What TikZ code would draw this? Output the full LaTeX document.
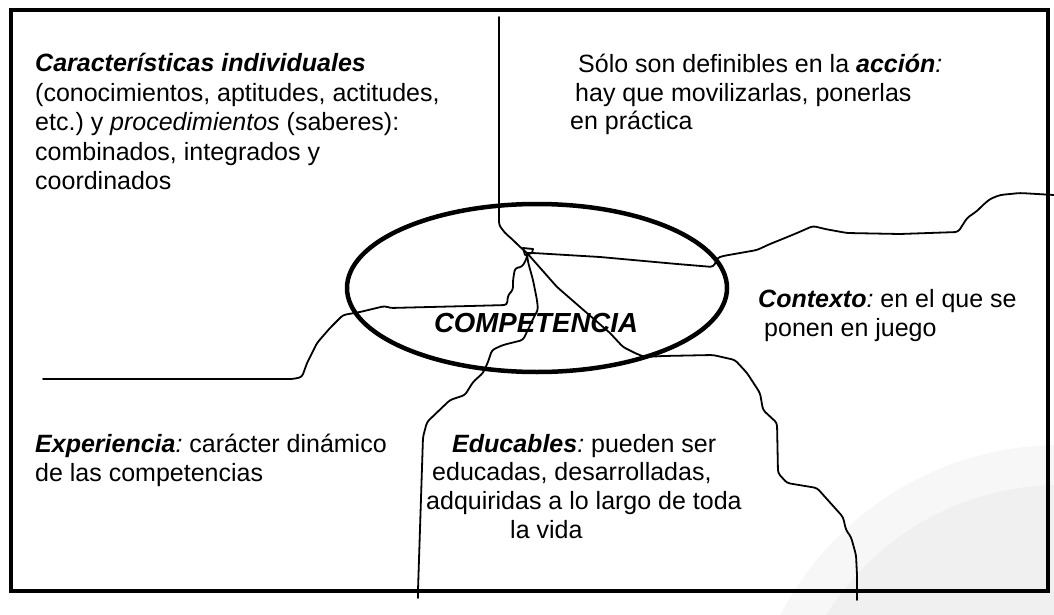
\documentclass[tikz,border=0pt]{standalone}
\usepackage{fontspec}
\setmainfont{Liberation Sans}
\usepackage{tikz}
\frenchspacing
\tikzset{
  txt/.style = {anchor=base west, inner sep=0pt, font=\fontsize{25}{29}\selectfont},
  divider/.style = {line width=1.8pt, line join=round, line cap=round, rounded corners=3pt},
  frame/.style = {draw, line width=3.6pt},
  ring/.style = {draw, line width=4.5pt},
  title/.style = {anchor=base, inner sep=0pt, font=\fontsize{27.6}{30}\selectfont\bfseries\itshape}
}

\begin{document}
\begin{tikzpicture}[x=1pt,y=-1pt]
  \useasboundingbox (0,0) rectangle (1054,615);
  % faint logo in the corner
  \begin{scope}
    \clip (0,0) rectangle (1054,615);
    \fill[black!3] (1060,760) circle (315pt);
    \fill[black!6] (1060,760) circle (275pt);
  \end{scope}
  \draw[frame] (11,10) rectangle (1048,591);

  \coordinate (hub) at (527,253);
  \coordinate (topend) at (499,17);
  \coordinate (rightend) at (1054,195);
  \coordinate (leftend) at (43,379);
  \coordinate (lowleft) at (418,598);
  \coordinate (lowright) at (857,600);

  % dividers
  \draw[divider] (topend) -- (499,225) -- (505,233) -- (513,240) -- (519,246) -- (hub);
  \draw[divider, rounded corners=0pt] (523,248) -- (533,249) -- (532,253) -- (525,255) -- cycle;
  \draw[divider] (hub) -- (533,253) -- (600,257) -- (677,264) -- (713,267) -- (716,262)
    -- (717,258) -- (723,256) -- (740,253) -- (757,250) -- (770,244) -- (780,240)
    -- (797,233) -- (813,226) -- (825,229) -- (847,233) -- (900,234) -- (958,232)
    -- (962,226) -- (967,218) -- (977,211) -- (983,205) -- (990,199) -- (1000,195)
    -- (1020,193) -- (rightend);
  \draw[divider] (hub) -- (527,258) -- (522,267) -- (515,268) -- (513,280) -- (513,290)
    -- (508,295) -- (507,305) -- (470,306) -- (390,308) -- (385,306) -- (360,312)
    -- (343,315) -- (330,328) -- (317,343) -- (307,363) -- (302,377) -- (293,379)
    -- (leftend);
  \draw[divider] (hub) -- (528,262) -- (533,280) -- (537,300) -- (538,310) -- (535,315)
    -- (523,340) -- (503,345) -- (492,350) -- (488,362) -- (483,373) -- (473,382)
    -- (465,395) -- (450,400) -- (427,422) -- (423,437) -- (418,590) -- (lowleft);
  \draw[divider] (hub) -- (557,287) -- (580,307) -- (610,333) -- (623,347) -- (637,354)
    -- (645,357) -- (663,356) -- (713,355) -- (735,360) -- (747,373) -- (760,393)
    -- (763,410) -- (777,423) -- (778,473) -- (787,483) -- (817,488) -- (843,517)
    -- (846,530) -- (851,537) -- (856,555) -- (857,575) -- (lowright);

  \draw[ring] (537,288) ellipse (190pt and 84pt);
  \node[title] (comp) at (536,332) {COMPETENCIA};

  % texts
  \node[txt] (cara1) at (35,72) {\textbf{\textit{Características individuales}}};
  \node[txt] (cara2) at (35,102) {(conocimientos, aptitudes, actitudes,};
  \node[txt] (cara3) at (35,131) {etc.) y \textit{procedimientos} (saberes):};
  \node[txt] (cara4) at (35,160) {combinados, integrados y};
  \node[txt] (cara5) at (35,189) {coordinados};

  \node[txt] (accion1) at (578,73) {Sólo son definibles en la \textbf{\textit{acción}}\textit{:}};
  \node[txt] (accion2) at (575,102) {hay que movilizarlas, ponerlas};
  \node[txt] (accion3) at (570,130) {en práctica};

  \node[txt] (ctx1) at (758,307) {\textbf{\textit{Contexto}}\textit{:} en el que se};
  \node[txt] (ctx2) at (764,336) {ponen en juego};

  \node[txt] (exp1) at (35,452) {\textbf{\textit{Experiencia}}\textit{:} carácter dinámico};
  \node[txt] (exp2) at (35,481) {de las competencias};

  \node[txt] (edu1) at (452,452) {\textbf{\textit{Educables}}\textit{:} pueden ser};
  \node[txt] (edu2) at (432,480) {educadas, desarrolladas,};
  \node[txt] (edu3) at (426,509) {adquiridas a lo largo de toda};
  \node[txt] (edu4) at (510,538) {la vida};
\end{tikzpicture}
\end{document}
